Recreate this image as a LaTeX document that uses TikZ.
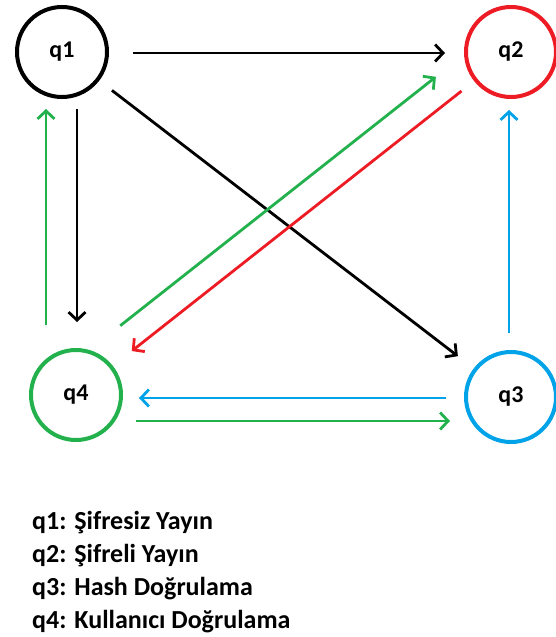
\documentclass[tikz,border=0pt]{standalone}
\usepackage{fontspec}
\setmainfont{Carlito}
\usetikzlibrary{arrows.meta}

\definecolor{pred}{RGB}{237,28,36}
\definecolor{pgreen}{RGB}{34,177,76}
\definecolor{pblue}{RGB}{0,162,232}

\begin{document}
\begin{tikzpicture}[x=1pt, y=-1pt,
    every node/.style={inner sep=2pt},
    state/.style={circle, line width=4pt, minimum size=90pt, font=\fontsize{24}{28}\selectfont\bfseries},
    link/.style={line width=2.8pt, -{Straight Barb[length=8pt, width=17pt, line width=2.8pt]}}]

    \useasboundingbox (0,0) rectangle (556,637);

    \node[state, draw=black] (q1) at (62,52) {q1};
    \node[state, draw=pred] (q2) at (511,52) {q2};
    \node[state, draw=pblue] (q3) at (511,397) {q3};
    \node[state, draw=pgreen] (q4) at (76,395) {q4};

    % q1 out
    \draw[link, shorten <=24pt, shorten >=19pt] ([shift={(0,1)}]q1.east) -- ([shift={(0,1)}]q2.west);
    \draw[link, shorten <=16pt, shorten >=20pt] (q1) -- (q3);
    \draw[link, shorten <=10pt, shorten >=26pt] ([shift={(15,0)}]q1.south) -- ([shift={(1,0)}]q4.north);

    % q4 out
    \draw[link, pgreen, shorten <=23pt, shorten >=10pt] ([shift={(-30,0)}]q4.north) -- ([shift={(-16,0)}]q1.south);
    \draw[link, pgreen, shorten <=78pt, shorten >=74pt] ([shift={(-17,-21)}]q4.center) -- ([shift={(-17,-21)}]q2.center);
    \draw[link, pgreen, shorten <=13pt, shorten >=14pt] ([shift={(0,26)}]q4.east) -- ([shift={(0,24)}]q3.west);

    % q2 out
    \draw[link, pred, shorten <=16pt, shorten >=24pt] (q2) -- (q4);

    % q3 out
    \draw[link, pblue, shorten <=17pt, shorten >=11pt] ([shift={(-2,0)}]q3.north) -- ([shift={(-2,0)}]q2.south);
    \draw[link, pblue, shorten <=18pt, shorten >=16pt] ([shift={(0,1)}]q3.west) -- ([shift={(0,3)}]q4.east);

    % legend
    \node[anchor=base west, align=left, inner sep=0pt, font=\fontsize{26}{32.7}\selectfont\bfseries] (legend) at (32,628)
        {q1: Şifresiz Yayın\\q2: Şifreli Yayın\\q3: Hash Doğrulama\\q4: Kullanıcı Doğrulama};

\end{tikzpicture}
\end{document}
